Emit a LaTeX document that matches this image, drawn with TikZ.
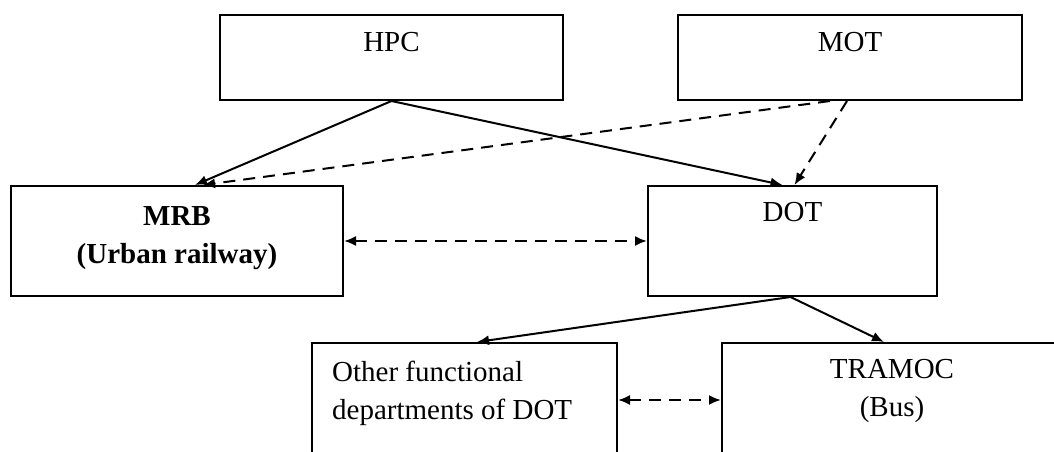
\documentclass[tikz,border=0pt]{standalone}
\usepackage{fontspec}
\setmainfont{Liberation Serif}
\usetikzlibrary{arrows.meta}
\begin{document}
\begin{tikzpicture}[x=1pt,y=-1pt,
  box/.style={draw, line width=2pt, rectangle, inner sep=0pt},
  txt/.style={font=\fontsize{29}{38}\selectfont, inner sep=0pt, align=center},
  tip/.style={-{Latex[length=12pt,width=10pt]}},
  link/.style={line width=2pt, tip},
  dlink/.style={link, dash pattern=on 12pt off 8pt},
  both/.style={line width=2pt, dash pattern=on 12pt off 8pt,
    {Latex[length=12pt,width=10pt]}-{Latex[length=12pt,width=10pt]}}]
\useasboundingbox (0,0) rectangle (1054,452);

% top level
\node[box, minimum width=343pt, minimum height=85pt,
  label={[txt, anchor=north, yshift=-18pt]north:HPC}] (hpc) at (391.5,57.5) {};
\node[box, minimum width=344pt, minimum height=85pt,
  label={[txt, anchor=north, yshift=-18pt]north:MOT}] (mot) at (850,57.5) {};

% middle level
\node[box, minimum width=332pt, minimum height=110pt,
  label={[txt, anchor=north, yshift=-21pt]north:\textbf{MRB}\\\textbf{(Urban railway)}}] (mrb) at (177,241) {};
\node[box, minimum width=289pt, minimum height=110pt,
  label={[txt, anchor=north, yshift=-17.5pt]north:DOT}] (dot) at (792.5,241) {};

% bottom level (runs past the lower and right edges)
\node[box, minimum width=305pt, minimum height=114pt,
  label={[txt, align=left, anchor=north west, xshift=21pt, yshift=-19pt]north west:Other functional\\departments of DOT}] (other) at (464.5,400) {};
\node[box, minimum width=348pt, minimum height=114pt,
  label={[txt, anchor=north, xshift=171pt, yshift=-17pt]north west:TRAMOC\\(Bus)}] (tramoc) at (896,400) {};

% connectors
\draw[link] (hpc.south) -- ([xshift=18pt]mrb.north);
\draw[link] (hpc.south) -- ([xshift=-10pt]dot.north);
\draw[dlink] ([xshift=-20pt]mot.south) -- ([xshift=26pt]mrb.north);
\draw[dlink] ([xshift=-3pt]mot.south) -- ([xshift=2pt]dot.north);
\draw[both] (mrb.east) -- (dot.west);
\draw[link] ([xshift=-2pt]dot.south) -- ([xshift=12.5pt]other.north);
\draw[link] ([xshift=-2pt]dot.south) -- ([xshift=163pt]tramoc.north west);
\draw[both] (other.east) -- (tramoc.west);
\end{tikzpicture}
\end{document}
